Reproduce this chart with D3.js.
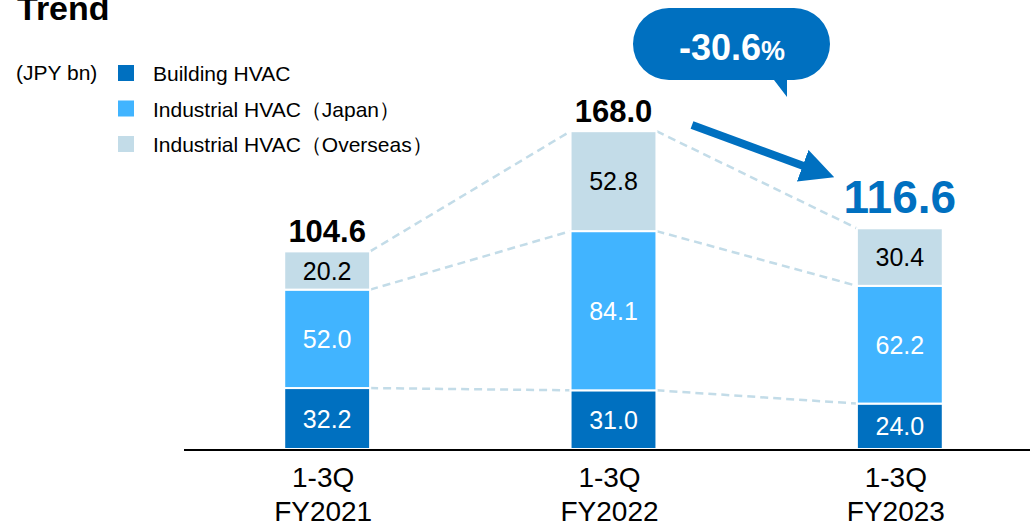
<!DOCTYPE html>
<html>
<head>
<meta charset="utf-8">
<script src="https://cdn.jsdelivr.net/npm/d3@7"></script>
<style>
body { margin: 0; background: #fff; }
text { font-family: 'Liberation Sans', Arial, sans-serif; }
</style>
</head>
<body>
<div id="chart"></div>
<script>
let width = 1030
let height = 523

// data
let periods = ['FY2021', 'FY2022', 'FY2023']
let periodTop = ['1-3Q', '1-3Q', '1-3Q']
let series = ['Building HVAC', 'Industrial HVAC（Japan）', 'Industrial HVAC（Overseas）']
let building = [32.2, 31.0, 24.0]
let industrialJapan = [52.0, 84.1, 62.2]
let industrialOverseas = [20.2, 52.8, 30.4]
let totals = [104.6, 168.0, 116.6]
let change = '-30.6'

let colors = ['#0070C0', '#41B4FF', '#C3DCE8']
let labelColors = ['#fff', '#fff', '#000']

let baseline = 449

let svg = d3.select('#chart').append('svg')
	.attr('width', width)
	.attr('height', height)

let xScale = d3.scaleBand()
	.domain(periods)
	.range([184, 1043])
	.paddingInner(0.7)
	.paddingOuter(0.35)

let yScale = d3.scaleLinear()
	.domain([0, 168])
	.range([baseline, 131])

let rows = periods.map((p, i) => ({
	period: p,
	'Building HVAC': building[i],
	'Industrial HVAC（Japan）': industrialJapan[i],
	'Industrial HVAC（Overseas）': industrialOverseas[i],
}))

let stacked = d3.stack().keys(series)(rows)

// title (cut at the top like the slide)
svg.append('text')
	.attr('x', 17)
	.attr('y', 20)
	.attr('font-size', 34)
	.attr('font-weight', 'bold')
	.text('Trend')

// legend
svg.append('text')
	.attr('x', 16)
	.attr('y', 80)
	.attr('font-size', 21)
	.text('(JPY bn)')

let legend = svg.append('g')
series.forEach((s, i) => {
	legend.append('rect')
		.attr('x', 118)
		.attr('y', 65 + i * 35.5)
		.attr('width', 16)
		.attr('height', 16)
		.attr('fill', colors[i])
	legend.append('text')
		.attr('x', 153)
		.attr('y', 81 + i * 35.5)
		.attr('font-size', 21)
		.text(s)
})

// dashed connectors
let connectors = svg.append('g')
let bounds = [0, 1, 2].map(k => periods.map((p, i) => stacked[k][i][1]))
for (let i = 0; i < periods.length - 1; i++) {
	bounds.forEach(b => {
		connectors.append('line')
			.attr('x1', xScale(periods[i]) + xScale.bandwidth())
			.attr('y1', yScale(b[i]))
			.attr('x2', xScale(periods[i + 1]))
			.attr('y2', yScale(b[i + 1]))
			.attr('stroke', '#C3DCE8')
			.attr('stroke-width', 2.5)
			.attr('stroke-dasharray', '8,5')
	})
}

// bars
let bars = svg.append('g')
stacked.forEach((layer, k) => {
	bars.selectAll('.seg' + k)
		.data(layer)
		.enter().append('rect')
		.attr('x', (d) => xScale(d.data.period))
		.attr('y', (d) => yScale(d[1]))
		.attr('width', xScale.bandwidth())
		.attr('height', (d) => yScale(d[0]) - yScale(d[1]))
		.attr('fill', colors[k])
		.attr('stroke', '#fff')
		.attr('stroke-width', 2)

	bars.selectAll('.lab' + k)
		.data(layer)
		.enter().append('text')
		.attr('x', (d) => xScale(d.data.period) + xScale.bandwidth() / 2)
		.attr('y', (d) => (yScale(d[0]) + yScale(d[1])) / 2 + 9)
		.attr('text-anchor', 'middle')
		.attr('font-size', 25)
		.attr('fill', labelColors[k])
		.text((d) => (d[1] - d[0]).toFixed(1))
})

// axis
svg.append('line')
	.attr('x1', 184)
	.attr('x2', 1030)
	.attr('y1', baseline + 1)
	.attr('y2', baseline + 1)
	.attr('stroke', '#000')
	.attr('stroke-width', 2)

let xLabels = svg.append('g')
periods.forEach((p, i) => {
	let cx = xScale(p) + xScale.bandwidth() / 2 - 4
	xLabels.append('text')
		.attr('x', cx)
		.attr('y', 487)
		.attr('text-anchor', 'middle')
		.attr('font-size', 28)
		.text(periodTop[i])
	xLabels.append('text')
		.attr('x', cx)
		.attr('y', 521)
		.attr('text-anchor', 'middle')
		.attr('font-size', 28)
		.text(p)
})

// totals
totals.forEach((t, i) => {
	let last = i === totals.length - 1
	svg.append('text')
		.attr('x', xScale(periods[i]) + xScale.bandwidth() / 2)
		.attr('y', yScale(t) - (last ? 15 : 9))
		.attr('text-anchor', 'middle')
		.attr('font-size', last ? 46 : 31)
		.attr('font-weight', 'bold')
		.attr('fill', last ? '#0070C0' : '#000')
		.text(t.toFixed(1))
})

// arrow
let defs = svg.append('defs')
defs.append('marker')
	.attr('id', 'head')
	.attr('viewBox', '0 0 10 10')
	.attr('refX', 2)
	.attr('refY', 5)
	.attr('markerWidth', 4.2)
	.attr('markerHeight', 4.2)
	.attr('orient', 'auto')
	.append('path')
	.attr('d', 'M0,0 L10,5 L0,10 Z')
	.attr('fill', '#0070C0')

svg.append('line')
	.attr('x1', 692)
	.attr('y1', 125)
	.attr('x2', 809)
	.attr('y2', 168)
	.attr('stroke', '#0070C0')
	.attr('stroke-width', 8)
	.attr('marker-end', 'url(#head)')

// callout bubble
svg.append('path')
	.attr('d', 'M669,8 L794,8 A36,36 0 0 1 794,80 L787,80 L787,97 L774,80 L669,80 A36,36 0 0 1 669,8 Z')
	.attr('fill', '#0070C0')

let bubbleText = svg.append('text')
	.attr('x', 732)
	.attr('y', 60)
	.attr('text-anchor', 'middle')
	.attr('font-weight', 'bold')
	.attr('fill', '#fff')
bubbleText.append('tspan').attr('font-size', 36).text(change)
bubbleText.append('tspan').attr('font-size', 27).text('%')
</script>
</body>
</html>
